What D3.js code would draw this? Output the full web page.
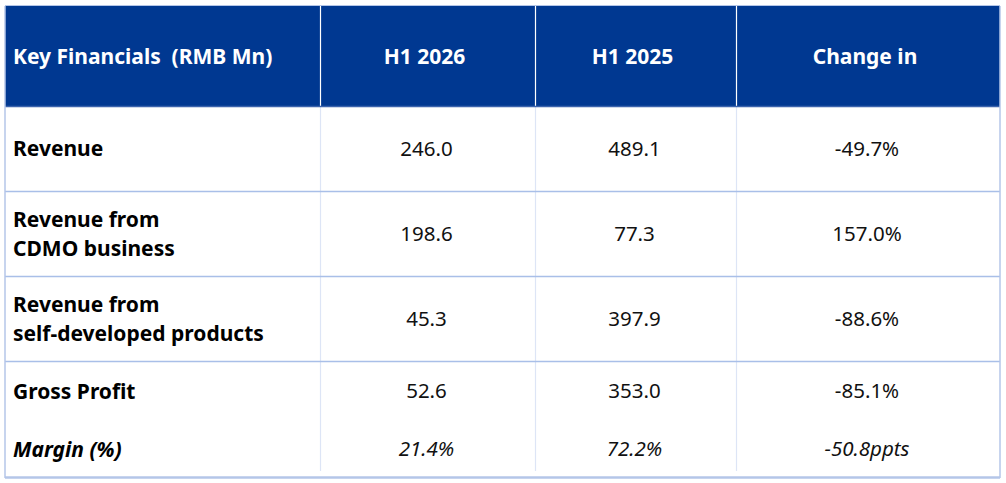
<!DOCTYPE html>
<html>
<head>
<meta charset="utf-8">
<script src="https://cdn.jsdelivr.net/npm/d3@7"></script>
<style>
  html, body { margin: 0; padding: 0; background: #fff; }
  svg { display: block; }
  text { font-family: "Noto Sans", Roboto, sans-serif; white-space: pre; }
</style>
</head>
<body>
<div id="table"></div>
<script>
// table contents
const columns = ["Key Financials  (RMB Mn)", "H1 2026", "H1 2025", "Change in"];
const rowLabels = [
  ["Revenue"],
  ["Revenue from", "CDMO business"],
  ["Revenue from", "self-developed products"],
  ["Gross Profit"],
  ["Margin (%)"]
];
const h1_2026 = ["246.0", "198.6", "45.3", "52.6", "21.4%"];
const h1_2025 = ["489.1", "77.3", "397.9", "353.0", "72.2%"];
const changeIn = ["-49.7%", "157.0%", "-88.6%", "-85.1%", "-50.8ppts"];
const italicRows = [false, false, false, false, true];

var width = 1006, height = 483;

var svg = d3.select("#table").append("svg")
    .attr("width", width)
    .attr("height", height);

// column edges (left of each column, plus right edge of table)
var colEdges = [5, 320, 535, 736, 1000];
var colLeft = d3.scaleOrdinal().domain(d3.range(4)).range(colEdges.slice(0, 4));
var colRight = d3.scaleOrdinal().domain(d3.range(4)).range(colEdges.slice(1));
function colMid(i) { return (colLeft(i) + colRight(i)) / 2; }

// row edges: header, then 3 body rows, then gross profit + margin sharing one block
var headerTop = 6, headerBottom = 106;
var rowEdges = [106, 191, 276, 361, 421, 477];
var rowTop = d3.scaleOrdinal().domain(d3.range(5)).range(rowEdges.slice(0, 5));
var rowBottom = d3.scaleOrdinal().domain(d3.range(5)).range(rowEdges.slice(1));
function rowMid(i) { return (rowTop(i) + rowBottom(i)) / 2; }

var labelSize = 21, numSize = 20.5, lineGap = 29;

// header background
svg.append("rect")
    .attr("x", colEdges[0])
    .attr("y", headerTop)
    .attr("width", colEdges[4] - colEdges[0])
    .attr("height", headerBottom - headerTop)
    .attr("fill", "#003891");

// header dividers (white)
svg.selectAll(".hdiv")
    .data(colEdges.slice(1, 4))
    .enter().append("line")
      .attr("class", "hdiv")
      .attr("x1", d => d + 0.5).attr("x2", d => d + 0.5)
      .attr("y1", headerTop).attr("y2", headerBottom)
      .style("stroke", "#ffffff")
      .style("stroke-width", 1.2);

// header labels
svg.selectAll(".htext")
    .data(columns)
    .enter().append("text")
      .attr("class", "htext")
      .attr("x", (d, i) => i == 0 ? 13 : colMid(i) - 3)
      .attr("y", (headerTop + headerBottom) / 2 + labelSize * 0.36)
      .attr("text-anchor", (d, i) => i == 0 ? "start" : "middle")
      .style("font-size", labelSize + "px")
      .style("font-weight", "bold")
      .style("fill", "#ffffff")
      .text(d => d);

// body vertical dividers
svg.selectAll(".bdiv")
    .data(colEdges.slice(1, 4))
    .enter().append("line")
      .attr("class", "bdiv")
      .attr("x1", d => d + 0.5).attr("x2", d => d + 0.5)
      .attr("y1", headerBottom).attr("y2", 471)
      .style("stroke", "#dde5f6")
      .style("stroke-width", 1.2);

// row separators (none between gross profit and margin)
svg.selectAll(".rline")
    .data([headerBottom, rowEdges[1], rowEdges[2], rowEdges[3]])
    .enter().append("line")
      .attr("class", "rline")
      .attr("x1", colEdges[0]).attr("x2", colEdges[4])
      .attr("y1", d => d + 0.5).attr("y2", d => d + 0.5)
      .style("stroke", (d, i) => i == 0 ? "#3b63ad" : "#a9bfe8")
      .style("stroke-width", 1.3);

// outer border
svg.append("line") // left
    .attr("x1", colEdges[0]).attr("x2", colEdges[0])
    .attr("y1", headerTop).attr("y2", 478)
    .style("stroke", "#b4c6e8").style("stroke-width", 1.5);
svg.append("line") // right
    .attr("x1", colEdges[4]).attr("x2", colEdges[4])
    .attr("y1", headerTop).attr("y2", 478)
    .style("stroke", "#b4c6e8").style("stroke-width", 1.5);
svg.append("line") // top
    .attr("x1", colEdges[0]).attr("x2", colEdges[4])
    .attr("y1", headerTop - 0.5).attr("y2", headerTop - 0.5)
    .style("stroke", "#b4c6e8").style("stroke-width", 1);
svg.append("line") // bottom
    .attr("x1", colEdges[0]).attr("x2", colEdges[4])
    .attr("y1", 477.5).attr("y2", 477.5)
    .style("stroke", "#b4c6e8").style("stroke-width", 2.4);

// row labels (first column)
var labels = svg.selectAll(".label")
    .data(rowLabels)
    .enter().append("text")
      .attr("class", "label")
      .attr("x", 13)
      .style("font-size", labelSize + "px")
      .style("font-weight", "bold")
      .style("font-style", (d, i) => italicRows[i] ? "italic" : "normal")
      .style("fill", "#000");

labels.each(function(lines, i) {
  var first = rowMid(i) - (lines.length - 1) * lineGap / 2 + labelSize * 0.36;
  d3.select(this).selectAll("tspan")
    .data(lines)
    .enter().append("tspan")
      .attr("x", 13)
      .attr("y", (d, j) => first + j * lineGap)
      .text(d => d);
});

// value columns
var valueCols = [h1_2026, h1_2025, changeIn];
valueCols.forEach(function(vals, c) {
  svg.selectAll(".val" + c)
    .data(vals)
    .enter().append("text")
      .attr("class", "val" + c)
      .attr("x", colMid(c + 1) - 1)
      .attr("y", (d, i) => rowMid(i) + numSize * 0.36)
      .attr("text-anchor", "middle")
      .style("font-size", numSize + "px")
      .style("font-style", (d, i) => italicRows[i] ? "italic" : "normal")
      .style("fill", "#111")
      .text(d => d);
});
</script>
</body>
</html>
